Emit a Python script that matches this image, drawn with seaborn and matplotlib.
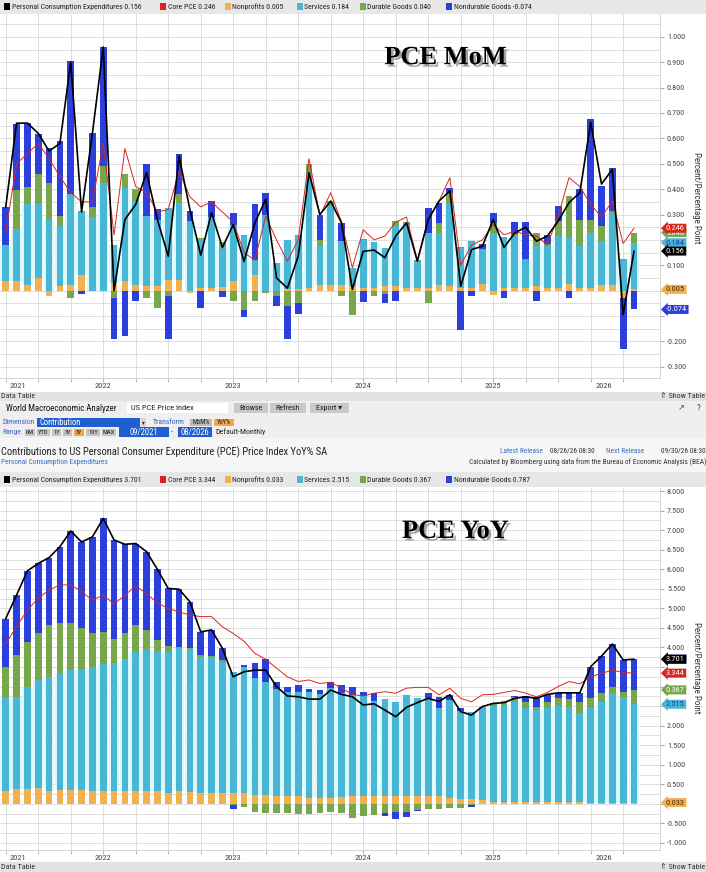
import numpy as np
import pandas as pd
import matplotlib
matplotlib.use("Agg")
import matplotlib.pyplot as plt
import matplotlib.patheffects as pe
import matplotlib.transforms as mtransforms
from matplotlib.patches import Rectangle
from matplotlib.ticker import MultipleLocator, FuncFormatter
from matplotlib import font_manager
import seaborn as sns

# monthly bars, first visible bar is Apr 2021
months = pd.period_range("2021-04", periods=59, freq="M")

# ---- MoM contributions (percentage points)
nonprofits_mom = [0.040, 0.037, 0.024, 0.050, -0.020, 0.017, 0.024, 0.063, 0.000, 0.000,
                  0.030, 0.037, 0.024, 0.017, 0.017, 0.043, 0.043, -0.010, 0.010, 0.010,
                  0.013, 0.037, 0.000, 0.063, 0.000, 0.000, 0.007, 0.007, 0.010, 0.024,
                  0.024, 0.024, 0.017, 0.010, 0.010, 0.017, 0.017, 0.010, 0.010, 0.010,
                  0.024, 0.017, 0.010, 0.010, 0.026, -0.017, 0.010, 0.010, 0.010, 0.017,
                  0.010, 0.010, 0.026, 0.010, 0.010, 0.024, 0.024, -0.030, 0.005]
services_mom = [0.138, 0.207, 0.316, 0.290, 0.280, 0.237, 0.356, 0.247, 0.290, 0.425,
                0.150, 0.369, 0.329, 0.279, 0.263, 0.284, 0.304, 0.270, 0.194, 0.277,
                0.162, 0.223, 0.220, 0.057, 0.300, 0.110, 0.193, 0.213, 0.455, 0.151,
                0.309, 0.171, 0.073, 0.190, 0.180, 0.153, 0.237, 0.255, 0.106, 0.218,
                0.204, 0.323, 0.159, 0.180, 0.134, 0.228, 0.198, 0.210, 0.110, 0.158,
                0.165, 0.205, 0.182, 0.165, 0.218, 0.171, 0.283, 0.120, 0.184]
durables_mom = [0.000, 0.153, 0.070, 0.120, 0.145, 0.040, -0.030, 0.005, 0.040, 0.065,
                -0.030, 0.054, 0.047, -0.030, -0.070, -0.020, 0.033, 0.005, 0.005, 0.005,
                0.015, -0.040, -0.075, -0.040, -0.010, -0.020, -0.060, -0.050, 0.035, 0.025,
                0.020, -0.020, -0.095, 0.005, -0.020, -0.013, 0.020, 0.005, 0.005, -0.050,
                0.039, 0.046, 0.005, 0.005, 0.005, 0.039, 0.005, 0.005, 0.005, 0.053,
                0.010, 0.059, 0.165, 0.105, 0.052, 0.059, 0.005, 0.005, 0.040]
nondurables_mom = [0.150, 0.259, 0.250, 0.157, 0.139, 0.296, 0.526, -0.015, 0.290, 0.470,
                   -0.160, -0.180, -0.040, 0.204, 0.040, -0.170, 0.160, 0.040, -0.070, 0.060,
                   -0.025, 0.047, -0.030, 0.220, 0.086, -0.040, -0.130, -0.040, 0.000, 0.100,
                   0.000, 0.072, 0.000, -0.045, 0.000, -0.035, -0.040, 0.000, 0.000, 0.099,
                   0.080, 0.020, -0.154, -0.020, 0.020, 0.040, -0.030, 0.047, 0.147, -0.040,
                   0.035, 0.059, -0.030, 0.120, 0.396, 0.158, 0.171, -0.200, -0.074]
pce_mom = [0.33, 0.66, 0.66, 0.62, 0.55, 0.58, 0.90, 0.31, 0.62, 0.96,
           0.00, 0.28, 0.34, 0.465, 0.28, 0.136, 0.53, 0.32, 0.14, 0.307,
           0.17, 0.26, 0.115, 0.267, 0.36, 0.05, 0.01, 0.136, 0.465, 0.30,
           0.353, 0.267, 0.005, 0.155, 0.16, 0.13, 0.215, 0.267, 0.116, 0.28,
           0.353, 0.393, 0.017, 0.162, 0.175, 0.28, 0.17, 0.228, 0.25, 0.195,
           0.215, 0.274, 0.347, 0.386, 0.663, 0.42, 0.478, -0.095, 0.156]
core_mom = [0.23, 0.50, 0.54, 0.58, 0.52, 0.45, 0.386, 0.35, 0.35, 0.58,
            0.22, 0.56, 0.41, 0.386, 0.31, 0.32, 0.47, 0.37, 0.33, 0.35,
            0.31, 0.27, 0.15, 0.12, 0.294, 0.20, 0.116, 0.20, 0.52, 0.294,
            0.386, 0.27, 0.09, 0.24, 0.20, 0.215, 0.27, 0.29, 0.12, 0.28,
            0.353, 0.445, 0.10, 0.18, 0.20, 0.26, 0.22, 0.235, 0.22, 0.215,
            0.18, 0.294, 0.445, 0.41, 0.34, 0.29, 0.353, 0.186, 0.246]

# ---- YoY contributions (percentage points)
nonprofits_yoy = [0.33, 0.37, 0.38, 0.40, 0.33, 0.35, 0.36, 0.36, 0.33, 0.33,
                  0.32, 0.33, 0.33, 0.32, 0.32, 0.28, 0.32, 0.30, 0.29, 0.27,
                  0.27, 0.29, 0.27, 0.23, 0.23, 0.19, 0.19, 0.19, 0.15, 0.15,
                  0.15, 0.17, 0.20, 0.21, 0.21, 0.20, 0.19, 0.19, 0.19, 0.19,
                  0.19, 0.15, 0.12, 0.12, 0.10, 0.06, 0.06, 0.06, 0.06, 0.04,
                  0.04, 0.04, 0.04, 0.04, 0.03, 0.03, 0.03, 0.03, 0.033]
services_yoy = [2.37, 2.37, 2.62, 2.77, 2.92, 2.99, 3.06, 3.08, 3.18, 3.26,
                3.29, 3.37, 3.56, 3.63, 3.60, 3.61, 3.66, 3.65, 3.47, 3.49,
                3.37, 3.09, 3.24, 2.98, 2.90, 2.74, 2.68, 2.68, 2.71, 2.66,
                2.81, 2.66, 2.59, 2.55, 2.43, 2.47, 2.42, 2.60, 2.51, 2.51,
                2.27, 2.51, 2.26, 2.24, 2.36, 2.44, 2.47, 2.55, 2.38, 2.36,
                2.40, 2.46, 2.40, 2.29, 2.41, 2.58, 2.80, 2.71, 2.515]
durables_yoy = [0.81, 1.07, 1.15, 1.19, 1.32, 1.28, 1.20, 1.05, 0.85, 0.81,
                0.60, 0.66, 0.68, 0.50, 0.27, 0.15, 0.04, 0.03, 0.05, 0.03,
                0.03, -0.02, -0.09, -0.20, -0.24, -0.24, -0.24, -0.26, -0.27, -0.24,
                -0.22, -0.24, -0.37, -0.32, -0.28, -0.24, -0.22, -0.20, -0.15, -0.14,
                -0.14, -0.11, -0.11, -0.02, 0.01, 0.07, 0.09, 0.13, 0.16, 0.09,
                0.17, 0.20, 0.23, 0.28, 0.26, 0.22, 0.15, 0.13, 0.367]
nondurables_yoy = [1.23, 1.53, 1.81, 1.79, 1.73, 1.96, 2.36, 2.21, 2.47, 2.90,
                   2.54, 2.28, 2.09, 2.00, 1.81, 1.47, 1.47, 1.19, 0.59, 0.66,
                   0.31, -0.12, 0.04, 0.40, 0.57, 0.20, 0.13, 0.17, 0.07, 0.10,
                   0.17, 0.21, 0.21, 0.11, 0.19, -0.06, -0.17, -0.13, -0.03, 0.14,
                   0.27, 0.13, 0.08, -0.05, 0.01, 0.02, 0.02, 0.02, 0.16, 0.25,
                   0.18, 0.13, 0.17, 0.23, 0.81, 0.95, 1.11, 0.81, 0.787]
pce_yoy = [4.74, 5.34, 5.96, 6.15, 6.30, 6.58, 6.98, 6.70, 6.83, 7.30,
           6.75, 6.64, 6.66, 6.45, 6.00, 5.51, 5.49, 5.17, 4.40, 4.45,
           3.98, 3.25, 3.38, 3.42, 3.42, 3.00, 2.76, 2.74, 2.68, 2.68,
           2.91, 2.80, 2.74, 2.53, 2.56, 2.40, 2.23, 2.47, 2.59, 2.70,
           2.62, 2.79, 2.36, 2.27, 2.49, 2.57, 2.59, 2.70, 2.74, 2.70,
           2.80, 2.84, 2.84, 2.84, 3.51, 3.78, 4.09, 3.68, 3.701]
core_yoy = [4.10, 4.53, 4.96, 5.26, 5.47, 5.60, 5.60, 5.43, 5.21, 5.34,
            5.11, 5.34, 5.57, 5.38, 5.14, 5.00, 4.91, 4.83, 4.79, 4.79,
            4.53, 4.36, 4.16, 3.85, 3.70, 3.47, 3.25, 3.13, 3.17, 3.08,
            3.11, 2.96, 2.80, 2.76, 2.83, 2.87, 2.83, 2.96, 2.98, 2.98,
            2.79, 2.96, 2.70, 2.61, 2.79, 2.80, 2.85, 2.90, 2.83, 2.74,
            2.85, 3.00, 3.13, 3.07, 3.25, 3.34, 3.42, 3.36, 3.344]

comp_names = ["Nonprofits", "Services", "Durable Goods", "Nondurable Goods"]
C_NP, C_SVC, C_DUR, C_ND = "#f2b04e", "#4ab6d6", "#78a64a", "#2b3fdc"
C_CORE, C_PCE = "#d9261c", "black"
comp_colors = [C_NP, C_SVC, C_DUR, C_ND]

sns.set_theme(style="white")
installed = {f.name for f in font_manager.fontManager.ttflist}
NARROW = next((n for n in ["Liberation Sans Narrow", "DejaVu Sans Condensed", "Roboto Condensed"]
               if n in installed), "Liberation Sans")
S = 1.0 if NARROW != "Liberation Sans" else 0.82
plt.rcParams["font.family"] = [NARROW, "DejaVu Sans"]
plt.rcParams["axes.unicode_minus"] = False

W, H = 706, 872
fig = plt.figure(figsize=(W / 100, H / 100), dpi=100)
fig.patch.set_facecolor("white")


def box(x0, y0, x1, y1, color, z=0.5):
    fig.add_artist(Rectangle((x0 / W, 1 - y1 / H), (x1 - x0) / W, (y1 - y0) / H,
                             transform=fig.transFigure, facecolor=color,
                             edgecolor="none", zorder=z))


def txt(x, y, s, size=5.5, color="#222222", **kw):
    fig.text(x / W, 1 - y / H, s, fontsize=size * S, color=color, va="center", **kw)


def button(x0, y0, x1, y1, label, fc, tc="#222222", size=4.8):
    box(x0, y0, x1, y1, fc, z=1)
    txt((x0 + x1) / 2, (y0 + y1) / 2, label, size, tc, ha="center", zorder=3)


def legend_strip(y0, y1, labels):
    box(0, y0, W, y1, "#e7e7e7")
    yc = (y0 + y1) / 2
    colors = [C_PCE, C_CORE] + comp_colors
    for sx, col, lab in zip([4, 160, 225, 297, 360, 446], colors, labels):
        box(sx, yc - 3.5, sx + 5.5, yc + 3.5, col, z=2)
        txt(sx + 7.5, yc, lab, 5.6, "#222222", zorder=3)


def panel(ax, comps, pce, core, ylim, minor, major, hide_gap):
    x = np.arange(len(months))
    pos = np.zeros(len(x))
    neg = np.zeros(len(x))
    ends = []
    for vals, col in zip(comps, comp_colors):
        v = np.asarray(vals, dtype=float)
        base = np.where(v >= 0, pos, neg)
        if col == C_SVC:
            ax.bar(x, v, bottom=base, width=0.97, color="#dcf8fc", linewidth=0, zorder=1.5)
        ax.bar(x, v, bottom=base, width=0.62, color=col, linewidth=0, zorder=2)
        ends.append(base[-1] + v[-1])
        pos = pos + np.clip(v, 0, None)
        neg = neg + np.clip(v, None, 0)
    sns.lineplot(x=x, y=core, ax=ax, color=C_CORE, lw=0.7, zorder=4, legend=False)
    sns.lineplot(x=x, y=pce, ax=ax, color=C_PCE, lw=1.2, zorder=5, legend=False)

    vals = [c[-1] for c in comps]
    tags = [(ends[3], vals[3], C_ND, "white"), (ends[2], vals[2], C_DUR, "white"),
            (ends[1], vals[1], C_SVC, "#1e3f9a"), (ends[0], vals[0], C_NP, "#4a3000"),
            (core[-1], core[-1], C_CORE, "white"), (pce[-1], pce[-1], C_PCE, "white")]
    tag_y = [t[0] for t in tags]

    def fmt(v, _):
        # axis labels sitting under a last-value tag are covered in the terminal view
        if min(abs(v - t) for t in tag_y) < hide_gap:
            return ""
        return f"{v:.3f}"

    ax.set_xlim(-0.53, 60.4)
    ax.set_ylim(*ylim)
    ax.set_facecolor("white")
    quarters = [i for i, m in enumerate(months) if m.month in (1, 4, 7, 10)]
    ax.set_xticks(quarters)
    ax.set_xticklabels([])
    ax.yaxis.set_major_locator(MultipleLocator(major))
    ax.yaxis.set_minor_locator(MultipleLocator(minor))
    ax.yaxis.set_major_formatter(FuncFormatter(fmt))
    ax.grid(which="both", color="#d8d8d8", lw=0.6)
    ax.set_axisbelow(True)
    ax.yaxis.tick_right()
    ax.tick_params(axis="y", which="major", length=3, width=0.6, color="#999999",
                   labelsize=5.8 * S, labelcolor="#444444", pad=2, right=True)
    ax.tick_params(axis="y", which="minor", length=0)
    ax.tick_params(axis="x", length=3, width=0.6, color="#aaaaaa", bottom=True)
    for side in ["top", "left"]:
        ax.spines[side].set_visible(False)
    for side in ["right", "bottom"]:
        ax.spines[side].set_color("#cccccc")
        ax.spines[side].set_linewidth(0.6)
    ax.set_xlabel("")
    ax.set_ylabel("")

    # year labels under the axis
    years = [(i, m.year) for i, m in enumerate(months) if m.month == 1]
    years = [(1.1, months[0].year)] + years
    for i, yr in years:
        shift = -1.8 if i == len(months) - 2 else 0
        ax.annotate(str(yr), (i + shift, 0), xycoords=("data", "axes fraction"),
                    xytext=(0, -5.5), textcoords="offset points", ha="center",
                    va="center", fontsize=6 * S, color="#444444", annotation_clip=False)

    # last-value tags on the right axis
    tr = mtransforms.blended_transform_factory(ax.transAxes, ax.transData)
    for ypos, v, fc, tc in tags:
        ax.text(1.009, ypos, f"{v:.3f}", transform=tr, ha="left", va="center",
                fontsize=6 * S, color=tc, clip_on=False, zorder=10,
                bbox=dict(boxstyle="larrow,pad=0.18", fc=fc, ec="none"))


# ---------------- top: MoM ----------------
legend_strip(0, 14, [f"Personal Consumption Expenditures {pce_mom[-1]:.3f}",
                     f"Core PCE {core_mom[-1]:.3f}",
                     f"{comp_names[0]} {nonprofits_mom[-1]:.3f}",
                     f"{comp_names[1]} {services_mom[-1]:.3f}",
                     f"{comp_names[2]} {durables_mom[-1]:.3f}",
                     f"{comp_names[3]} {nondurables_mom[-1]:.3f}"])
ax_top = fig.add_axes([0, 1 - 378 / H, 660 / W, (378 - 14) / H])
panel(ax_top, [nonprofits_mom, services_mom, durables_mom, nondurables_mom],
      pce_mom, core_mom, (-0.344, 1.09), 0.05, 0.1, 0.03)
ax_top.text(0.675, 0.88, "PCE MoM", transform=ax_top.transAxes, ha="center", va="center",
            fontsize=19, fontweight="bold", family=["Liberation Serif", "DejaVu Serif"],
            color="black", zorder=12,
            path_effects=[pe.withSimplePatchShadow(offset=(1.8, -1.8), shadow_rgbFace="#666666", alpha=0.6)])
txt(697, 198, "Percent/Percentage Point", 6.5, "#333333", rotation=-90, ha="center")

# ---------------- middle: terminal toolbar ----------------
box(0, 392, W, 401, "#e2e2e2")
txt(1, 396.5, "Data Table", 5.8, "#333333")
txt(705, 396.5, "\u21d1 Show Table", 5.8, "#333333", ha="right")
box(0, 401, W, 438, "#efefef")
txt(6, 408, "World Macroeconomic Analyzer", 6.4, "#111111")
box(127, 402.5, 228, 413.5, "white", z=1)
box(127, 412.8, 228, 413.5, "#7f96c8", z=2)
txt(131, 408, "US PCE Price Index", 6.0, "#222222", zorder=3)
button(234, 403, 268, 413, "Browse", "#c9c9c9", size=5.8)
button(270, 403, 306, 413, "Refresh", "#c9c9c9", size=5.8)
button(310, 403, 349, 413, "Export \u25be", "#c9c9c9", size=5.8)
txt(678, 408, "\u2197", 6, "#444444")
txt(697, 408, "?", 6.5, "#444444")

txt(2, 422, "Dimension", 5.6, "#3a66c4")
box(37, 418, 140, 427, "#1f5fd0", z=1)
txt(39, 422.5, "Contribution", 6.2, "white", zorder=3)
button(141, 418, 146, 427, "\u25be", "#d6d6d6", size=4)
txt(153, 422, "Transform", 5.6, "#3a66c4")
button(190, 418.5, 212, 426.5, "MoM%", "#bcbcbc", size=4.8)
button(214, 418.5, 234, 426.5, "YoY%", "#f4a64a", size=4.8)

txt(2, 432, "Range", 5.6, "#3a66c4")
for (x0, x1), lab in zip([(25, 35), (37, 50), (52, 61), (63, 72), (74, 84), (86, 100), (102, 116)],
                         ["6M", "YTD", "1Y", "3Y", "5Y", "10Y", "MAX"]):
    button(x0, 428.5, x1, 436, lab, "#f4a64a" if lab == "5Y" else "#c4c4c4", size=4.6)
button(119, 427.5, 169, 437, "09/2021", "#1f5fd0", "white", size=6.2)
txt(171, 432, "-", 6, "#333333")
button(178, 427.5, 212, 437, "08/2026", "#1f5fd0", "white", size=6.2)
txt(215, 432, "Default-Monthly", 5.8, "#222222")

box(0, 438, W, 472, "#f6f6f6")
txt(1, 452, "Contributions to US Personal Consumer Expenditure (PCE) Price Index YoY% SA", 7.6, "#222222")
txt(1, 462, "Personal Consumption Expenditures", 5.4, "#3a70c8")
txt(500, 451, "Latest Release", 5.3, "#3a70c8")
txt(550, 451, "08/26/26 08:30", 5.3, "#333333")
txt(606, 451, "Next Release", 5.3, "#3a70c8")
txt(706, 451, "09/30/26 08:30", 5.3, "#333333", ha="right")
txt(706, 462, "Calculated by Bloomberg using data from the Bureau of Economic Analysis (BEA)", 5.3,
    "#333333", ha="right")

# ---------------- bottom: YoY ----------------
legend_strip(472, 487, [f"Personal Consumption Expenditures {pce_yoy[-1]:.3f}",
                        f"Core PCE {core_yoy[-1]:.3f}",
                        f"{comp_names[0]} {nonprofits_yoy[-1]:.3f}",
                        f"{comp_names[1]} {services_yoy[-1]:.3f}",
                        f"{comp_names[2]} {durables_yoy[-1]:.3f}",
                        f"{comp_names[3]} {nondurables_yoy[-1]:.3f}"])
ax_bot = fig.add_axes([0, 1 - 850 / H, 660 / W, (850 - 488) / H])
panel(ax_bot, [nonprofits_yoy, services_yoy, durables_yoy, nondurables_yoy],
      pce_yoy, core_yoy, (-1.18, 8.08), 0.25, 0.5, 0.2)
ax_bot.text(0.69, 0.88, "PCE YoY", transform=ax_bot.transAxes, ha="center", va="center",
            fontsize=19, fontweight="bold", family=["Liberation Serif", "DejaVu Serif"],
            color="black", zorder=12,
            path_effects=[pe.withSimplePatchShadow(offset=(1.8, -1.8), shadow_rgbFace="#666666", alpha=0.6)])
txt(697, 668, "Percent/Percentage Point", 6.5, "#333333", rotation=-90, ha="center")

box(0, 862, W, 872, "#e2e2e2")
txt(1, 867, "Data Table", 5.8, "#333333")
txt(705, 867, "\u21d1 Show Table", 5.8, "#333333", ha="right")

fig.savefig("out.png", dpi=100)
